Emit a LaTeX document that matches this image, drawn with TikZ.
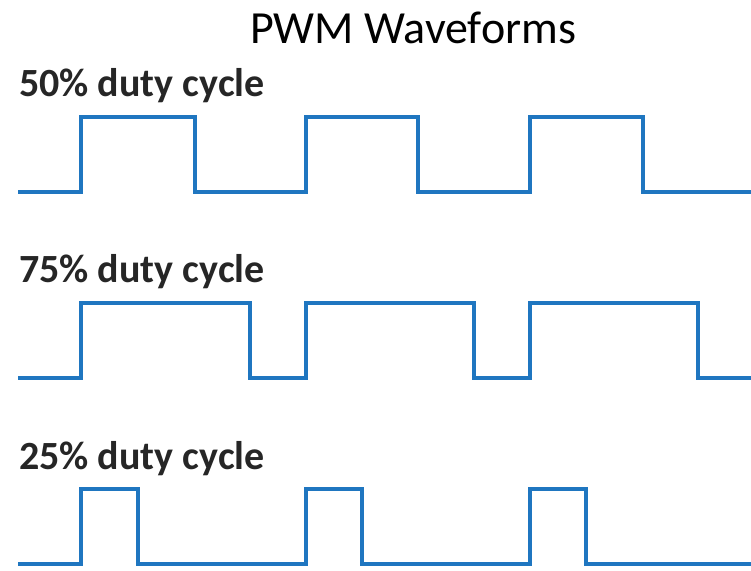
\documentclass[tikz,border=0pt]{standalone}
\usepackage{fontspec}
\setmainfont{Carlito}
\definecolor{wave}{RGB}{31,118,192}
\begin{document}
\begin{tikzpicture}[x=1pt,y=-1pt,
  wavestyle/.style={draw=wave,line width=4pt,line join=miter},
  lbl/.style={anchor=base west,inner sep=0pt,font=\fontsize{40}{46}\selectfont\bfseries,text=black!85},
  ttl/.style={anchor=base,inner sep=0pt,font=\fontsize{46}{52}\selectfont}]
\useasboundingbox[fill=white] (0,0) rectangle (751,570);
\node[ttl] (title) at (413,43) {PWM Waveforms};
\node[lbl] (l50) at (19,96) {50\% duty cycle};
\node[lbl] (l75) at (19,282) {75\% duty cycle};
\node[lbl] (l25) at (19,469) {25\% duty cycle};
% 50%
\draw[wavestyle] (18,192) -- (81,192) -- (81,117) -- (195,117) -- (195,192) -- (306,192) -- (306,117) -- (418,117) -- (418,192) -- (530,192) -- (530,117) -- (643,117) -- (643,192) -- (751,192);
% 75%
\draw[wavestyle] (18,378) -- (81,378) -- (81,303) -- (250,303) -- (250,378) -- (306,378) -- (306,303) -- (474,303) -- (474,378) -- (530,378) -- (530,303) -- (698,303) -- (698,378) -- (751,378);
% 25%
\draw[wavestyle] (18,564) -- (81,564) -- (81,489) -- (138,489) -- (138,564) -- (306,564) -- (306,489) -- (362,489) -- (362,564) -- (530,564) -- (530,489) -- (586,489) -- (586,564) -- (751,564);
\end{tikzpicture}
\end{document}
